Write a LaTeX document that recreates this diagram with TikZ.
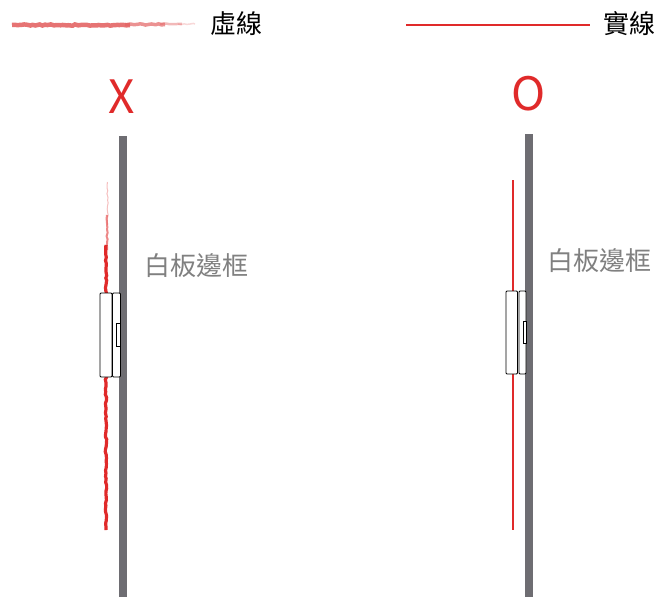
\documentclass[tikz,border=0pt]{standalone}
\usepackage{fontspec}
\setmainfont{Noto Sans CJK TC}
\usepackage{tikz}
\usetikzlibrary{decorations.pathmorphing}
\definecolor{barGray}{HTML}{6E6D72}
\definecolor{lineRed}{HTML}{E02A2A}
\definecolor{brushRed}{HTML}{E36464}
\definecolor{labelGray}{HTML}{808080}

\begin{document}
\begin{tikzpicture}[x=1pt,y=-1pt,
  rough/.style={decorate,decoration={random steps,segment length=3pt,amplitude=0.7pt}},
  sensor/.style={draw=black,fill=white,line width=0.8pt,rounded corners=1pt}]
  \useasboundingbox (0,0) rectangle (659,597);
  % legend
  \draw[brushRed,line width=4.5pt,rough,opacity=0.9] (12,25) -- (130,25);
  \draw[brushRed,line width=3.5pt,rough,opacity=0.7] (125,24.5) -- (165,24.5);
  \draw[brushRed,line width=2.5pt,rough,opacity=0.45] (160,24) -- (182,24);
  \draw[brushRed,line width=1.5pt,rough,opacity=0.25] (178,24) -- (195,24);
  \node[font=\fontsize{26}{26}\selectfont] (dashLbl) at (236,24) {虛線};
  \draw[lineRed,line width=2pt] (406,25) -- (590,25);
  \node[font=\fontsize{26}{26}\selectfont] (solidLbl) at (629,24) {實線};
  % wrong way
  \node[lineRed,font=\fontsize{46}{46}\selectfont] (wrong) at (122,97) {X};
  \fill[barGray] (119,136) rectangle (127,597);
  \draw[lineRed!50,line width=1pt,rough,opacity=0.6] (107.5,182) -- (107.5,225);
  \draw[lineRed!80,line width=2pt,rough,opacity=0.7] (107,215) -- (107,250);
  \draw[lineRed,line width=3.2pt,rough] (106,245) -- (106,530);
  \draw[sensor] (100,293) rectangle (112,377);
  \draw[sensor] (112.5,293) rectangle (120.5,377);
  \draw[sensor,rounded corners=0pt] (116,323) rectangle (120.5,346);
  \node[labelGray,font=\fontsize{26}{26}\selectfont] (frameL) at (196,266) {白板邊框};
  % right way
  \node[lineRed,font=\fontsize{46}{46}\selectfont] (right) at (529,94) {O};
  \fill[barGray] (525,134) rectangle (533,597);
  \draw[lineRed,line width=2pt] (513,180) -- (513,530);
  \draw[sensor] (506,291) rectangle (517.5,374);
  \draw[sensor] (519,291) rectangle (526,374);
  \draw[sensor,rounded corners=0pt] (523,321) rectangle (526,343);
  \node[labelGray,font=\fontsize{26}{26}\selectfont] (frameR) at (599,261) {白板邊框};
\end{tikzpicture}
\end{document}
